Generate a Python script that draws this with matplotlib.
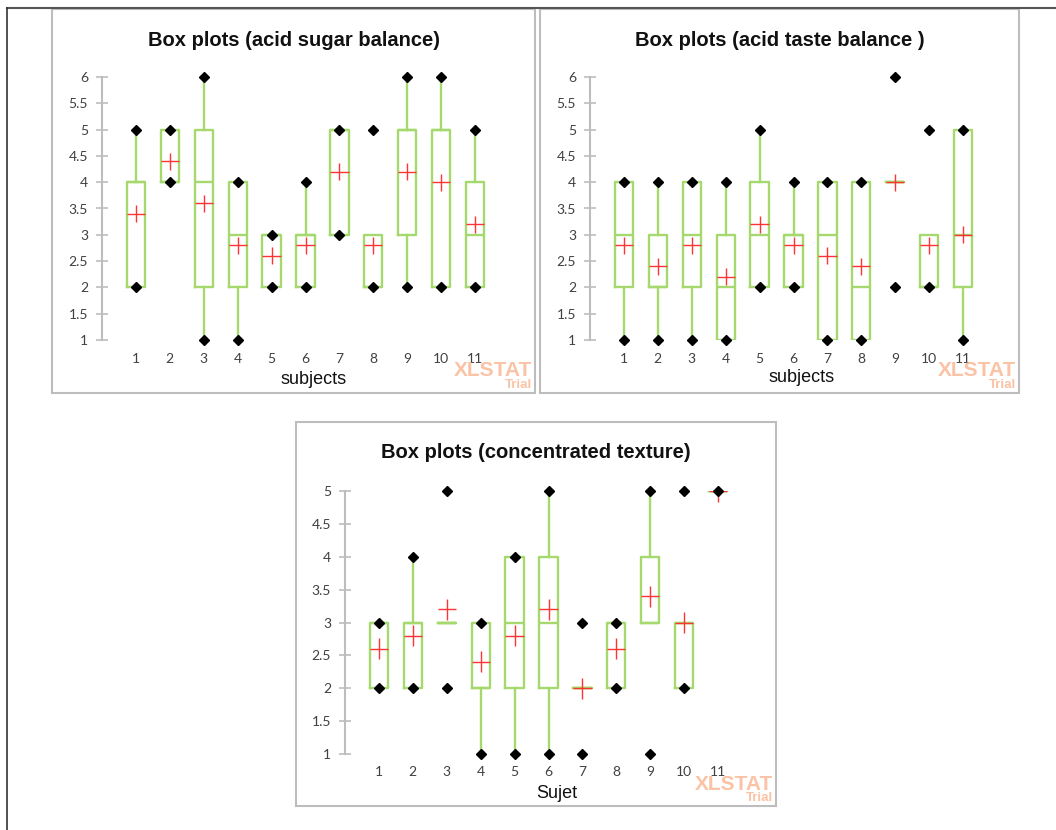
import matplotlib
matplotlib.use("Agg")
import matplotlib.pyplot as plt
from matplotlib.patches import Rectangle
from matplotlib.lines import Line2D

W, H = 1056, 830
GREEN = "#A5D96E"
RED = "#FF3333"
FRAME = "#BDBDBD"
WATER = "#FBC3A6"

categories = [str(i) for i in range(1, 12)]

# acid sugar balance
sugar_q1 = [2, 4, 2, 2, 2, 2, 3, 2, 3, 2, 2]
sugar_med = [4, 4, 4, 3, 3, 3, 5, 2, 5, 5, 3]
sugar_q3 = [4, 5, 5, 4, 3, 3, 5, 3, 5, 5, 4]
sugar_wlo = [2, 4, 1, 1, 2, 2, 3, 2, 2, 2, 2]
sugar_whi = [5, 5, 6, 4, 3, 4, 5, 3, 6, 6, 5]
sugar_mean = [3.4, 4.4, 3.6, 2.8, 2.6, 2.8, 4.2, 2.8, 4.2, 4.0, 3.2]
sugar_pts = [[2, 5], [4, 5], [1, 6], [1, 4], [2, 3], [2, 4], [3, 5], [2, 5], [2, 6], [2, 6], [2, 5]]

# acid taste balance
taste_q1 = [2, 2, 2, 1, 2, 2, 1, 1, 4, 2, 2]
taste_med = [3, 2, 3, 2, 3, 3, 3, 2, 4, 2, 3]
taste_q3 = [4, 3, 4, 3, 4, 3, 4, 4, 4, 3, 5]
taste_wlo = [1, 1, 1, 1, 2, 2, 1, 1, 4, 2, 1]
taste_whi = [4, 4, 4, 4, 5, 4, 4, 4, 4, 3, 5]
taste_mean = [2.8, 2.4, 2.8, 2.2, 3.2, 2.8, 2.6, 2.4, 4.0, 2.8, 3.0]
taste_pts = [[1, 4], [1, 4], [1, 4], [1, 4], [2, 5], [2, 4], [1, 4], [1, 4], [2, 6], [2, 5], [1, 5]]

# concentrated texture
tex_q1 = [2, 2, 3, 2, 2, 2, 2, 2, 3, 2, 5]
tex_med = [3, 3, 3, 2, 3, 3, 2, 3, 3, 3, 5]
tex_q3 = [3, 3, 3, 3, 4, 4, 2, 3, 4, 3, 5]
tex_wlo = [2, 2, 3, 1, 1, 1, 2, 2, 3, 2, 5]
tex_whi = [3, 4, 3, 3, 4, 5, 2, 3, 5, 3, 5]
tex_mean = [2.6, 2.8, 3.2, 2.4, 2.8, 3.2, 2.0, 2.6, 3.4, 3.0, 5.0]
tex_pts = [[2, 3], [2, 4], [2, 5], [1, 3], [1, 4], [1, 5], [1, 3], [2, 3], [1, 5], [2, 5], [5]]

yticks6 = [1, 1.5, 2, 2.5, 3, 3.5, 4, 4.5, 5, 5.5, 6]
yticks5 = [1, 1.5, 2, 2.5, 3, 3.5, 4, 4.5, 5]

fig = plt.figure(figsize=(W / 100, H / 100), dpi=100)


def fx(px):
    return px / W


def fy(py):
    return 1 - py / H


def frame(x0, y0, x1, y1, color=FRAME, lw=1.5):
    fig.patches.append(Rectangle((fx(x0), fy(y1)), fx(x1 - x0), (y1 - y0) / H,
                                 transform=fig.transFigure, fill=False,
                                 edgecolor=color, linewidth=lw))


def panel(box, title, xlabel, q1, med, q3, wlo, whi, mean, pts, yticks, frame_box, title_y, label_y, tick_y):
    x0, y0, x1, y1 = box
    ax = fig.add_axes([fx(x0), fy(y1), fx(x1 - x0), (y1 - y0) / H])
    stats = []
    for i in range(len(categories)):
        stats.append(dict(q1=q1[i], med=med[i], q3=q3[i], whislo=wlo[i], whishi=whi[i],
                          mean=mean[i], fliers=[]))
    pos = list(range(1, len(categories) + 1))
    ax.bxp(stats, positions=pos, widths=0.54, showcaps=False, showfliers=False,
           boxprops=dict(color=GREEN, linewidth=1.7),
           whiskerprops=dict(color=GREEN, linewidth=1.7),
           medianprops=dict(color=GREEN, linewidth=1.7))
    for p, m in zip(pos, mean):
        ax.hlines(m, p - 0.27, p + 0.27, color=RED, linewidth=1.0, zorder=4)
        ax.vlines(p, m - 0.16, m + 0.16, color=RED, linewidth=1.0, zorder=4)
    for p, vals in zip(pos, pts):
        ax.plot([p] * len(vals), vals, "D", color="black", markersize=5,
                clip_on=False, zorder=5)
    ax.set_xlim(0, 12)
    ax.set_ylim(yticks[0], yticks[-1])
    ax.set_yticks(yticks)
    ax.set_yticklabels([f"{t:g}" for t in yticks], fontsize=10, color="#404040", family="Lato")
    ax.set_xticks([])
    for s in ["top", "right", "bottom"]:
        ax.spines[s].set_visible(False)
    ax.spines["left"].set_color(FRAME)
    ax.spines["left"].set_linewidth(1.5)
    ax.tick_params(axis="y", direction="inout", length=8, width=1.2, color=FRAME, pad=6)
    ax.patch.set_alpha(0)
    # category labels below plot
    for p, c in zip(pos, categories):
        ax.text(p, -(tick_y - y1) / (y1 - y0), c, transform=ax.get_xaxis_transform(),
                fontsize=10, color="#404040", family="Lato", ha="center", va="center")
    fx0, fy0, fx1, fy1 = frame_box
    cx = (fx0 + fx1) / 2
    fig.text(fx(cx), fy(title_y), title, ha="center", va="center", fontsize=14.5,
             fontweight="bold", family="Liberation Sans", color="#111111")
    fig.text(fx((x0 + x1) / 2 + 8), fy(label_y), xlabel, ha="center", va="center",
             fontsize=13, family="Liberation Sans", color="#111111")
    fig.text(fx(fx1 - 3), fy(fy1 - 22), "XLSTAT", ha="right", va="center", fontsize=15,
             fontweight="bold", family="Liberation Sans", color=WATER)
    fig.text(fx(fx1 - 3), fy(fy1 - 8), "Trial", ha="right", va="center", fontsize=9.5,
             fontweight="bold", family="Liberation Sans", color=WATER)
    frame(*frame_box)
    return ax


panel((102, 77, 509, 340), "Box plots (acid sugar balance)", "subjects",
      sugar_q1, sugar_med, sugar_q3, sugar_wlo, sugar_whi, sugar_mean, sugar_pts,
      yticks6, (52, 9, 535, 393), 40, 379, 359)
panel((590, 77, 997, 340), "Box plots (acid taste balance )", "subjects",
      taste_q1, taste_med, taste_q3, taste_wlo, taste_whi, taste_mean, taste_pts,
      yticks6, (540, 9, 1019, 393), 40, 377, 359)
panel((345, 491, 752, 754), "Box plots (concentrated texture)", "Sujet",
      tex_q1, tex_med, tex_q3, tex_wlo, tex_whi, tex_mean, tex_pts,
      yticks5, (296, 422, 776, 806), 452, 793, 772)

# outer page border
fig.add_artist(Line2D([fx(7), 1], [fy(8), fy(8)], transform=fig.transFigure,
                      color="#555555", linewidth=1.5))
fig.add_artist(Line2D([fx(7), fx(7)], [fy(8), 0], transform=fig.transFigure,
                      color="#333333", linewidth=1.2))

fig.savefig("out.png", dpi=100)
